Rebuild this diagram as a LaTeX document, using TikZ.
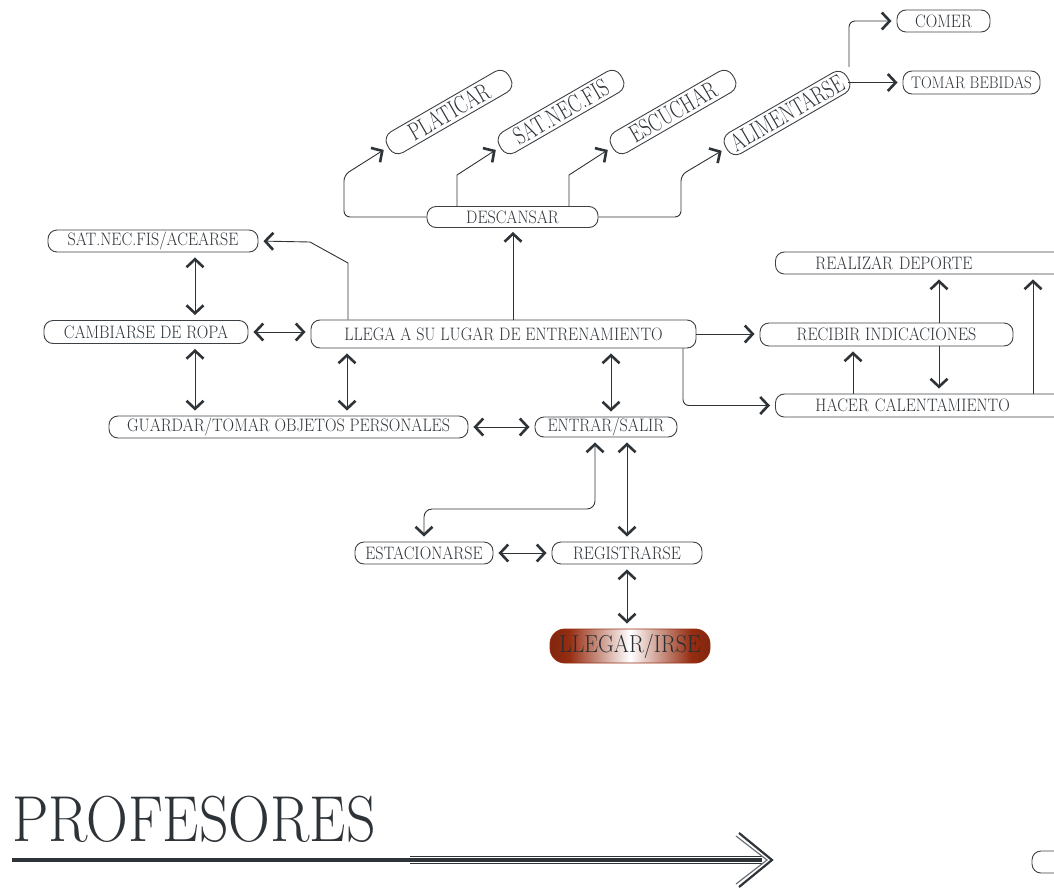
\documentclass[tikz,border=0pt]{standalone}
\usepackage{fontspec}
\usepackage{tikz}
\usetikzlibrary{arrows.meta}
\usetikzlibrary{positioning}
\newfontfamily\boxfont{lmroman17-regular.otf}[FakeStretch=0.89]
\newfontfamily\tiltfont{lmroman17-regular.otf}[FakeStretch=0.74]
\definecolor{ink}{HTML}{2E3338}
\definecolor{boxline}{HTML}{3C4146}
\definecolor{rust}{HTML}{962D11}
\pgfdeclarehorizontalshading{glow}{100bp}{color(0bp)=(rust!85!black); color(25bp)=(rust!85!black);
  color(31bp)=(rust); color(50bp)=(white); color(69bp)=(rust); color(75bp)=(rust!85!black);
  color(100bp)=(rust!85!black)}
\tikzset{pill/.style = {draw = boxline, line width = 0.9, rounded corners = 9, inner sep = 0,
    minimum height = 22, text = ink, font = \boxfont\fontsize{18}{18}\selectfont}}
\tikzset{tilt/.style = {pill, rotate = 30, minimum width = 140, minimum height = 24,
    rounded corners = 10, font = \tiltfont\fontsize{25}{25}\selectfont}}
\tikzset{link/.style = {draw = ink, line width = 0.9}}
\tikzset{both/.style = {link, {Straight Barb[length=8pt, width=17pt, line width=2.6pt]}-{Straight Barb[length=8pt, width=17pt, line width=2.6pt]}, shorten < = 5, shorten > = 5}}
\tikzset{goes/.style = {link, -{Straight Barb[length=8pt, width=17pt, line width=2.6pt]}, shorten > = 5}}

\begin{document}
\begin{tikzpicture}[x = 1pt, y = -1pt]
      \useasboundingbox (0, 0) rectangle (1054, 889);

      % descansar and its branches
      \node [pill, minimum width = 171, minimum height = 21] (descansar) at (512.5, 217) {DESCANSAR};
      \node [tilt] (platicar) at (449, 112) {PLATICAR};
      \node [tilt] (satnec) at (561, 112) {SAT.NEC.FIS};
      \node [tilt] (escuchar) at (673, 112) {ESCUCHAR};
      \node [tilt] (alimentarse) at (787, 113) {ALIMENTARSE};
      \node [pill, minimum width = 93] (comer) at (943.5, 21) {COMER};
      \node [pill, minimum width = 137, minimum height = 23, font = \boxfont\fontsize{16.8}{16.8}\selectfont] (bebidas) at (971.5, 82.5) {TOMAR BEBIDAS};

      % left column
      \node [pill, minimum width = 210] (satacear) at (153, 241) {SAT.NEC.FIS/ACEARSE};
      \node [pill, minimum width = 204, minimum height = 23] (cambiarse) at (146, 332) {CAMBIARSE DE ROPA};
      \node [pill, minimum width = 385, minimum height = 28] (llega) at (503.5, 334) {LLEGA A SU LUGAR DE ENTRENAMIENTO};
      \node [pill, minimum width = 359] (guardar) at (288.5, 427) {GUARDAR/TOMAR OBJETOS PERSONALES};
      \node [pill, minimum width = 142, minimum height = 20] (entrar) at (606, 427) {ENTRAR/SALIR};

      % right column
      \node [pill, anchor = west, text width = 300, inner xsep = 40, align = left] (realizar) at (775, 263) {REALIZAR DEPORTE};
      \node [pill, minimum width = 253, minimum height = 23] (recibir) at (886.5, 334.5) {RECIBIR INDICACIONES};
      \node [pill, anchor = west, text width = 300, inner xsep = 40, align = left, minimum height = 23] (hacer) at (775, 405.5) {HACER CALENTAMIENTO};

      % bottom
      \node [pill, minimum width = 138] (estacionarse) at (424, 553) {ESTACIONARSE};
      \node [pill, minimum width = 150] (registrarse) at (627, 553) {REGISTRARSE};
      \node [pill, draw = rust, rounded corners = 15, minimum width = 160, minimum height = 34,
        shading = glow, text = ink!90!black, font = \boxfont\fontsize{24.5}{24.5}\selectfont] (llegar) at (630, 646) {LLEGAR/IRSE};
      \node [pill, minimum width = 60] (extra) at (1062, 862) {};

      \node [anchor = south west, inner sep = 0, text = ink, font = \boxfont\fontsize{65}{65}\selectfont] (profesores) at (12, 843) {PROFESORES};

      % connectors
      \draw [goes, rounded corners = 6] (descansar.west) -- (344, 0 |- descansar.west) -- (344, 175) -- (platicar.west);
      \draw [goes] (457, 0 |- descansar.north) -- (457, 175) -- (satnec.west);
      \draw [goes] (569, 0 |- descansar.north) -- (569, 175) -- (escuchar.west);
      \draw [goes, rounded corners = 6] (descansar.east) -- (681, 0 |- descansar.east) -- (681, 175) -- (alimentarse.west);
      \draw [goes, rounded corners = 6] (849, 0 |- alimentarse.north east) |- (comer.west);
      \draw [goes] (alimentarse.east |- bebidas.west) -- (bebidas.west);

      \draw [goes] (348, 0 |- llega.north) -- (348, 263) -- (310, 242) -- (satacear.east);
      \draw [goes, shorten > = 4] (513, 0 |- llega.north) -- (513, 0 |- descansar.south);
      \draw [both] (195, 0 |- satacear.south) -- (195, 0 |- cambiarse.north);
      \draw [both] (cambiarse.east) -- (cambiarse.east -| llega.west);
      \draw [both] (195, 0 |- cambiarse.south) -- (195, 0 |- guardar.north);
      \draw [both] (347, 0 |- llega.south) -- (347, 0 |- guardar.north);
      \draw [both] (611, 0 |- llega.south) -- (611, 0 |- entrar.north);
      \draw [both] (guardar.east) -- (entrar.west);

      \draw [goes] (llega.east) -- (llega.east -| recibir.west);
      \draw [goes, rounded corners = 6] (683, 0 |- llega.south) |- (hacer.west);
      \draw [goes] (853, 0 |- hacer.north) -- (853, 0 |- recibir.south);
      \draw [goes] (939, 0 |- recibir.north) -- (939, 0 |- realizar.south);
      \draw [goes] (939, 0 |- recibir.south) -- (939, 0 |- hacer.north);
      \draw [goes] (1033, 0 |- hacer.north) -- (1033, 0 |- realizar.south);

      \draw [both, rounded corners = 8] (595, 0 |- entrar.south) -- (595, 509) -- (424, 509) -- (estacionarse.north);
      \draw [both] (627, 0 |- entrar.south) -- (627, 0 |- registrarse.north);
      \draw [both] (estacionarse.east) -- (registrarse.west);
      \draw [both] (registrarse.south) -- (registrarse.south |- llegar.north);

      % profesores rule and arrow
      \coordinate (rule mid) at (410, 860);
      \coordinate (rule end) at (762, 860);
      \draw [ink, line width = 4] (profesores.south west |- rule mid) -- (rule mid);
      \draw [ink, line width = 8] (rule mid) -- (rule end);
      \draw [white, line width = 5.5] (rule mid) -- (rule end);
      \draw [ink, line width = 3.5] (rule mid) -- (rule end);
      \draw [ink, line width = 2.2, miter limit = 20] (739, 833) -- (772, 860) -- (739, 887);
      \draw [ink!70, line width = 1.2, miter limit = 20] (736, 836) -- (767, 860) -- (736, 884);
\end{tikzpicture}
\end{document}
